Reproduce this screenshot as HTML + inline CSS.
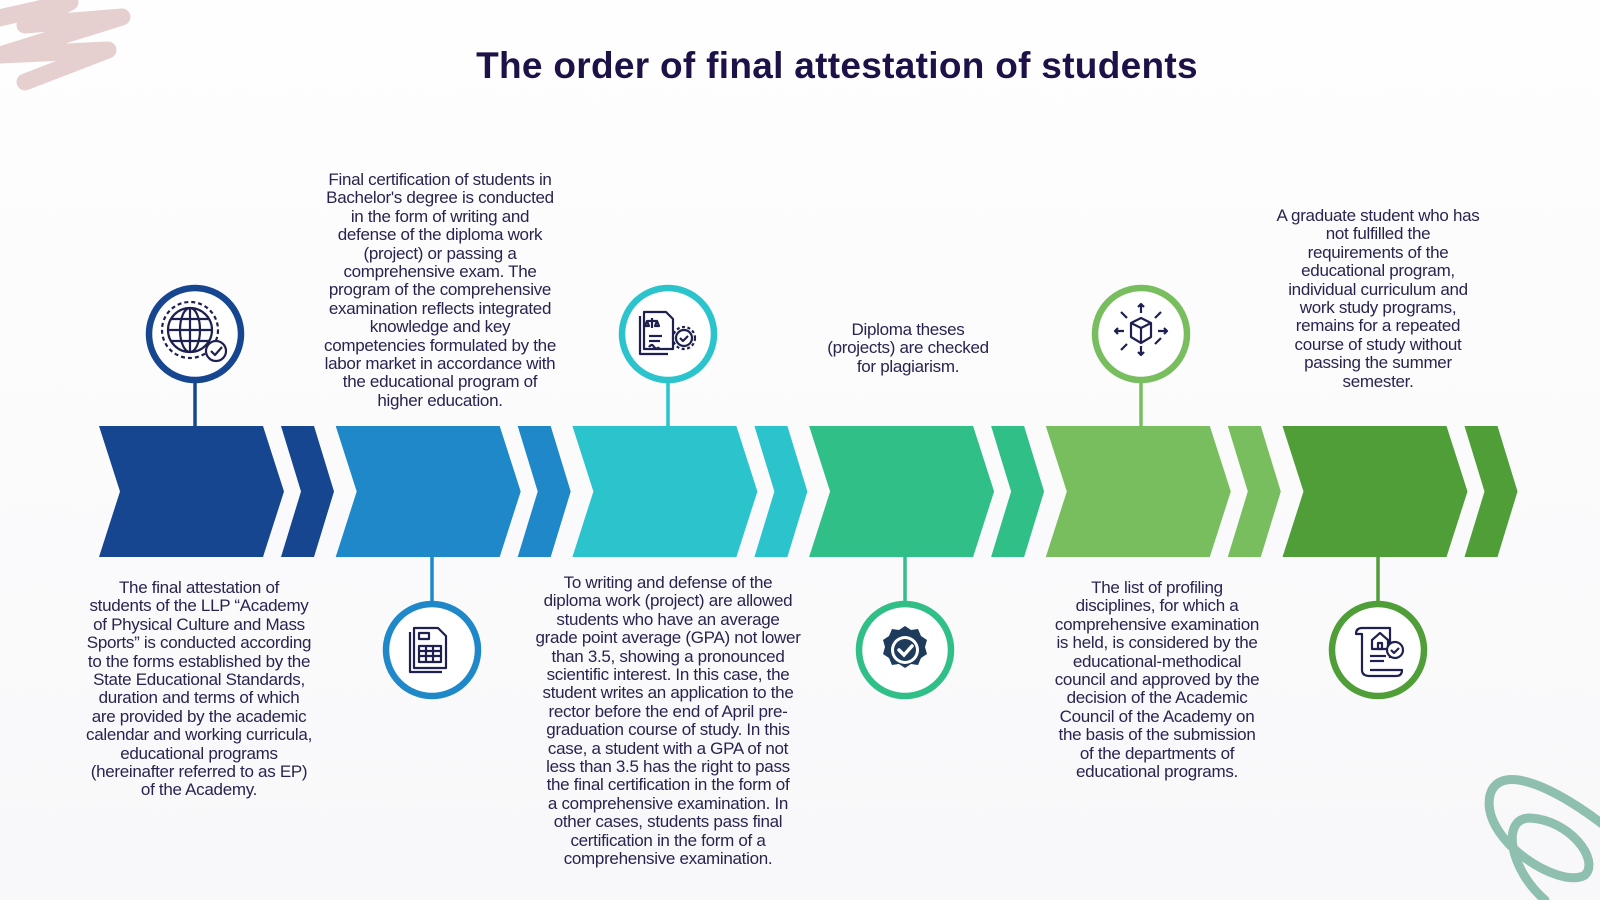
<!DOCTYPE html>
<html><head><meta charset="utf-8"><style>
html,body{margin:0;padding:0}
body{width:1600px;height:900px;position:relative;overflow:hidden;background:linear-gradient(180deg,#fefefe 0%,#f8f8fa 100%);font-family:"Liberation Sans",sans-serif;color:#241a4a}
h1{position:absolute;left:0;width:1674px;top:45px;margin:0;text-align:center;font-size:37px;font-weight:bold;color:#1d1147;letter-spacing:0.3px}
.t{position:absolute;text-align:center;font-size:17px;line-height:18.4px;transform:translateX(-50%);white-space:nowrap;letter-spacing:-0.3px;color:#2a2350}
svg{position:absolute;left:0;top:0}
</style></head><body>
<svg width="1600" height="900" viewBox="0 0 1600 900">
<g stroke-linecap="round" fill="none">
<path d="M-10 20 L70 2 L25 25 L122 17 L0 55 L108 50 L25 82" stroke="#e6cfcf" stroke-width="17" stroke-linejoin="round"/>
<path d="M1610 830 C1560 790 1500 760 1490 795 C1480 840 1560 890 1585 875 C1600 860 1570 820 1530 818 C1500 818 1510 870 1545 900" stroke="#8fbfae" stroke-width="9"/>
</g>
<g id="chev">
<polygon points="99,426 263,426 284,491.5 263,557 99,557 120,491.5" fill="#15468f"/>
<polygon points="281,426 314,426 334,491.5 314,557 281,557 301,491.5" fill="#15468f"/>
<g transform="translate(236.7,0)" fill="#1e88c9"><polygon points="99,426 263,426 284,491.5 263,557 99,557 120,491.5"/><polygon points="281,426 314,426 334,491.5 314,557 281,557 301,491.5"/></g>
<g transform="translate(473.4,0)" fill="#2bc4cc"><polygon points="99,426 263,426 284,491.5 263,557 99,557 120,491.5"/><polygon points="281,426 314,426 334,491.5 314,557 281,557 301,491.5"/></g>
<g transform="translate(710.1,0)" fill="#31bf88"><polygon points="99,426 263,426 284,491.5 263,557 99,557 120,491.5"/><polygon points="281,426 314,426 334,491.5 314,557 281,557 301,491.5"/></g>
<g transform="translate(946.8,0)" fill="#78be5e"><polygon points="99,426 263,426 284,491.5 263,557 99,557 120,491.5"/><polygon points="281,426 314,426 334,491.5 314,557 281,557 301,491.5"/></g>
<g transform="translate(1183.5,0)" fill="#4f9e38"><polygon points="99,426 263,426 284,491.5 263,557 99,557 120,491.5"/><polygon points="281,426 314,426 334,491.5 314,557 281,557 301,491.5"/></g>
</g>
<g stroke-width="3.5">
<line x1="195" y1="380" x2="195" y2="426" stroke="#15468f"/>
<line x1="432" y1="557" x2="432" y2="604" stroke="#1e88c9"/>
<line x1="668" y1="380" x2="668" y2="426" stroke="#2bc4cc"/>
<line x1="905" y1="557" x2="905" y2="604" stroke="#31bf88"/>
<line x1="1141" y1="380" x2="1141" y2="426" stroke="#78be5e"/>
<line x1="1378" y1="557" x2="1378" y2="604" stroke="#4f9e38"/>
</g>
<g fill="#fff" stroke-width="6.5">
<circle cx="195" cy="334" r="46" stroke="#15468f"/>
<circle cx="432" cy="650" r="46" stroke="#1e88c9"/>
<circle cx="668" cy="334" r="46" stroke="#2bc4cc"/>
<circle cx="905" cy="650" r="46" stroke="#31bf88"/>
<circle cx="1141" cy="334" r="46" stroke="#78be5e"/>
<circle cx="1378" cy="650" r="46" stroke="#4f9e38"/>
</g>
<g fill="none" stroke="#1e2150" stroke-width="2.2" stroke-linejoin="round">
<circle cx="190" cy="330" r="22"/><ellipse cx="190" cy="330" rx="10" ry="22"/><line x1="168" y1="330" x2="212" y2="330"/><line x1="171" y1="319" x2="209" y2="319"/><line x1="171" y1="341" x2="209" y2="341"/><line x1="190" y1="308" x2="190" y2="352"/>
<circle cx="190" cy="330" r="28" stroke-dasharray="4 3"/>
<circle cx="216" cy="351" r="10" fill="#fff"/><path d="M211 351 l4 4 l7 -8"/>
<path d="M414 628 h24 l8 8 v32 h-32 z"/><path d="M410 632 v40 h32"/><rect x="419" y="646" width="22" height="16"/><line x1="419" y1="651" x2="441" y2="651"/><line x1="419" y1="656" x2="441" y2="656"/><line x1="426" y1="646" x2="426" y2="662"/><line x1="433" y1="646" x2="433" y2="662"/><rect x="419" y="633" width="10" height="6"/>
<path d="M644 312 h22 l7 7 v30 h-29 z"/><path d="M640 316 v38 h28"/><line x1="649" y1="336" x2="662" y2="336"/><line x1="649" y1="341" x2="660" y2="341"/><path d="M649 347 q3 -4 5 0 q3 3 5 0"/><path d="M652 318 v10 M647 321 h10 M647 321 l-2 5 h4 z M657 321 l-2 5 h4z"/>
<circle cx="684" cy="338" r="8" fill="#fff"/><circle cx="684" cy="338" r="11" stroke-dasharray="3 2.5"/><path d="M680 338 l3 3 l5 -5"/>
<path d="M1131 323 l10 -5 l10 5 v14 l-10 6 l-10 -6 z M1131 323 l10 5 l10 -5 M1141 328 v15"/>
<path d="M1141 313 v-9 m-3 3 l3 -3 l3 3 M1141 346 v9 m-3 -3 l3 3 l3 -3 M1124 331 h-9 m3 -3 l-3 3 l3 3 M1158 331 h9 m-3 -3 l3 3 l-3 3 M1127 318 l-6 -6 M1155 318 l6 -6 M1127 344 l-6 6 M1155 344 l6 -6"/>
</g>
<path d="M905 626 l6 4 7 -1 3 7 6 4 -2 7 2 7 -6 4 -3 7 -7 -1 -6 4 -6 -4 -7 1 -3 -7 -6 -4 2 -7 -2 -7 6 -4 3 -7 7 1z" fill="#1e3b5c"/>
<circle cx="905" cy="650" r="14" fill="#fff"/><circle cx="905" cy="650" r="11" fill="#1e3b5c"/>
<path d="M899 650 l5 5 l8 -9" stroke="#fff" stroke-width="3.5" fill="none" stroke-linecap="round"/>
<g fill="none" stroke="#1e2150" stroke-width="2.2" stroke-linejoin="round">
<path d="M1362 628 h28 v30 M1362 628 q-6 0 -6 6 h6 v36 q0 6 8 6 h26 q6 0 6 -6 h-32"/><path d="M1372 640 l8 -7 l8 7 v9 h-16 z"/><rect x="1378" y="643" width="4" height="6"/><line x1="1370" y1="656" x2="1386" y2="656"/><line x1="1370" y1="661" x2="1384" y2="661"/>
<circle cx="1395" cy="650" r="8" fill="#fff"/><path d="M1391 650 l3 3 l5 -5"/>
</g>
</svg>
<h1>The order of final attestation of students</h1>
<div class="t" style="left:440px;top:171px">Final certification of students in<br>Bachelor's degree is conducted<br>in the form of writing and<br>defense of the diploma work<br>(project) or passing a<br>comprehensive exam. The<br>program of the comprehensive<br>examination reflects integrated<br>knowledge and key<br>competencies formulated by the<br>labor market in accordance with<br>the educational program of<br>higher education.</div>
<div class="t" style="left:908px;top:321px">Diploma theses<br>(projects) are checked<br>for plagiarism.</div>
<div class="t" style="left:1378px;top:207px">A graduate student who has<br>not fulfilled the<br>requirements of the<br>educational program,<br>individual curriculum and<br>work study programs,<br>remains for a repeated<br>course of study without<br>passing the summer<br>semester.</div>
<div class="t" style="left:199px;top:579px">The final attestation of<br>students of the LLP “Academy<br>of Physical Culture and Mass<br>Sports” is conducted according<br>to the forms established by the<br>State Educational Standards,<br>duration and terms of which<br>are provided by the academic<br>calendar and working curricula,<br>educational programs<br>(hereinafter referred to as EP)<br>of the Academy.</div>
<div class="t" style="left:668px;top:574px">To writing and defense of the<br>diploma work (project) are allowed<br>students who have an average<br>grade point average (GPA) not lower<br>than 3.5, showing a pronounced<br>scientific interest. In this case, the<br>student writes an application to the<br>rector before the end of April pre-<br>graduation course of study. In this<br>case, a student with a GPA of not<br>less than 3.5 has the right to pass<br>the final certification in the form of<br>a comprehensive examination. In<br>other cases, students pass final<br>certification in the form of a<br>comprehensive examination.</div>
<div class="t" style="left:1157px;top:579px">The list of profiling<br>disciplines, for which a<br>comprehensive examination<br>is held, is considered by the<br>educational-methodical<br>council and approved by the<br>decision of the Academic<br>Council of the Academy on<br>the basis of the submission<br>of the departments of<br>educational programs.</div>
</body></html>
